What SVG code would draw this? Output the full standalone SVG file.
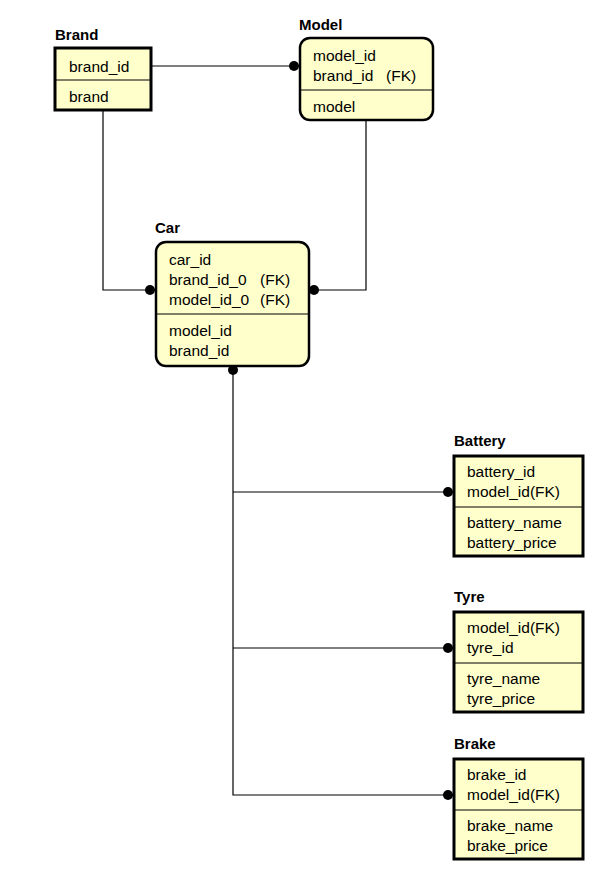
<svg xmlns="http://www.w3.org/2000/svg" width="598" height="872" viewBox="0 0 598 872">
<style>
.box{fill:#ffffcc;stroke:#000;stroke-width:3}
.rbox{fill:#ffffcc;stroke:#000;stroke-width:2.5}
.div{stroke:#000;stroke-width:1}
.t{font-family:"Liberation Sans",Arial,sans-serif;font-size:15.5px;fill:#000;white-space:pre}
.h{font-family:"Liberation Sans",Arial,sans-serif;font-size:15px;font-weight:bold;fill:#000}
.c{fill:none;stroke:#000;stroke-width:1.2}
</style>
<rect width="598" height="872" fill="#fff"/>
<g id="connectors">
<path class="c" d="M152 66 H299"/>
<circle cx="294" cy="66" r="5"/>
<path class="c" d="M103 111 V290 H155"/>
<circle cx="150" cy="290" r="5"/>
<path class="c" d="M366 120 V290 H309"/>
<circle cx="314" cy="290" r="5"/>
<circle cx="233" cy="370" r="5"/>
<path class="c" d="M233 366 V795 H453"/>
<path class="c" d="M233 492 H453"/>
<path class="c" d="M233 648 H453"/>
<circle cx="448" cy="492" r="5"/>
<circle cx="448" cy="648" r="5"/>
<circle cx="448" cy="795" r="5"/>
</g>
<g id="Brand">
<text class="h" x="55" y="40">Brand</text>
<rect class="box" x="55" y="48" width="96" height="62"/>
<line class="div" x1="55" y1="80" x2="151" y2="80"/>
<text class="t" x="69" y="72">brand_id</text>
<text class="t" x="69" y="102">brand</text>
</g>
<g id="Model">
<text class="h" x="299" y="30">Model</text>
<rect class="rbox" x="300" y="38" width="133" height="82" rx="10"/>
<line class="div" x1="300" y1="90" x2="433" y2="90"/>
<text class="t" x="313" y="61">model_id</text>
<text class="t" x="313" y="81">brand_id<tspan x="386">(FK)</tspan></text>
<text class="t" x="313" y="112">model</text>
</g>
<g id="Car">
<text class="h" x="155" y="233">Car</text>
<rect class="rbox" x="156" y="242" width="153" height="124" rx="10"/>
<line class="div" x1="156" y1="314" x2="309" y2="314"/>
<text class="t" x="169" y="265">car_id</text>
<text class="t" x="169" y="285">brand_id_0<tspan x="260">(FK)</tspan></text>
<text class="t" x="169" y="305">model_id_0<tspan x="260">(FK)</tspan></text>
<text class="t" x="169" y="336">model_id</text>
<text class="t" x="169" y="356">brand_id</text>
</g>
<g id="Battery">
<text class="h" x="454" y="446">Battery</text>
<rect class="box" x="454" y="456" width="129" height="100"/>
<line class="div" x1="454" y1="507" x2="583" y2="507"/>
<text class="t" x="467" y="477">battery_id</text>
<text class="t" x="467" y="497">model_id(FK)</text>
<text class="t" x="467" y="528">battery_name</text>
<text class="t" x="467" y="548">battery_price</text>
</g>
<g id="Tyre">
<text class="h" x="454" y="602">Tyre</text>
<rect class="box" x="454" y="612" width="129" height="100"/>
<line class="div" x1="454" y1="663" x2="583" y2="663"/>
<text class="t" x="467" y="633">model_id(FK)</text>
<text class="t" x="467" y="653">tyre_id</text>
<text class="t" x="467" y="684">tyre_name</text>
<text class="t" x="467" y="704">tyre_price</text>
</g>
<g id="Brake">
<text class="h" x="454" y="749">Brake</text>
<rect class="box" x="454" y="759" width="129" height="100"/>
<line class="div" x1="454" y1="810" x2="583" y2="810"/>
<text class="t" x="467" y="780">brake_id</text>
<text class="t" x="467" y="800">model_id(FK)</text>
<text class="t" x="467" y="831">brake_name</text>
<text class="t" x="467" y="851">brake_price</text>
</g>
</svg>
